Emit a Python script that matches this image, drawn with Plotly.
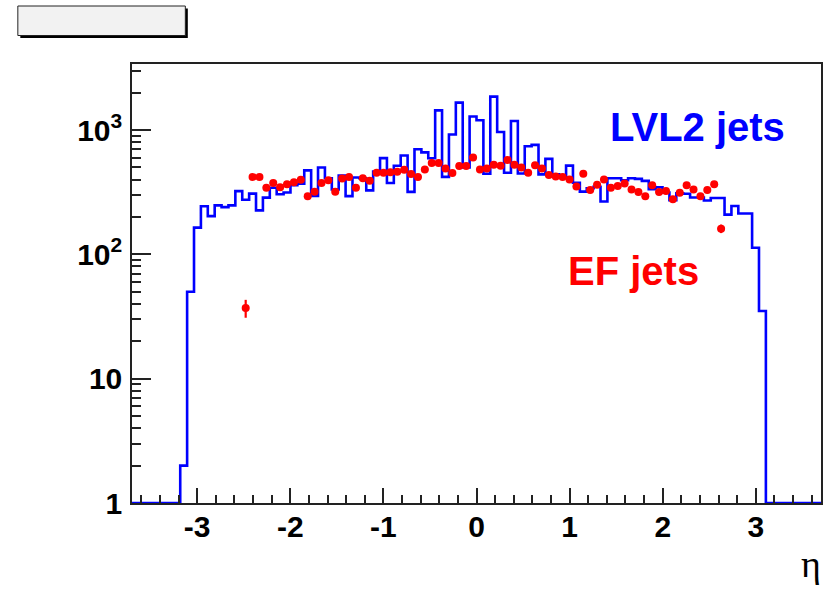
import numpy as np
import plotly.graph_objects as go

# ---- binning (100 bins from -3.7 to 3.7) ----
eta_min = -3.7
eta_max = 3.7
n_bins = 100

# ---- LVL2 jets histogram counts, per bin ----
lvl2_counts = [
    0, 0, 0, 0, 0, 0, 0, 2, 50, 164,
    244, 203, 248, 240, 248, 323, 275, 308, 226, 286,
    344, 305, 315, 360, 370, 474, 295, 500, 410, 333,
    430, 294, 415, 410, 327, 463, 595, 375, 517, 624,
    318, 700, 662, 594, 1441, 420, 922, 1661, 500, 1285,
    1200, 445, 1857, 965, 454, 1182, 447, 740, 760, 440,
    586, 440, 425, 518, 377, 320, 340, 350, 266, 410,
    410, 395, 410, 405, 390, 335, 347, 315, 273, 310,
    307, 287, 287, 271, 284, 284, 209, 245, 213, 213,
    113, 35, 0, 0, 0, 0, 0, 0, 0, 0,
]

# ---- EF jets counts, per bin ----
ef_counts = [
    0, 0, 0, 0, 0, 0, 0, 0, 0, 0,
    0, 0, 0, 0, 0, 0, 37, 420, 420, 344,
    375, 346, 366, 380, 399, 294, 319, 375, 395, 319,
    407, 420, 344, 410, 392, 454, 454, 458, 461, 480,
    443, 420, 482, 543, 543, 490, 451, 513, 513, 602,
    482, 490, 525, 517, 575, 525, 501, 454, 521, 490,
    436, 424, 420, 401, 351, 446, 330, 363, 401, 344,
    355, 372, 333, 317, 294, 359, 317, 323, 277, 313,
    359, 333, 294, 329, 366, 161, 0, 0, 0, 0,
    0, 0, 0, 0, 0, 0, 0, 0, 0, 0,
]

x_tick_vals = [-3, -2, -1, 0, 1, 2, 3]
x_tick_text = ["-3", "-2", "-1", "0", "1", "2", "3"]
y_tick_vals = [1, 10, 100, 1000]
y_tick_text = ["1", "10", "10<sup>2</sup>", "10<sup>3</sup>"]
y_axis_max = 3400

lvl2_label = "LVL2 jets"
ef_label = "EF jets"
x_title = "η"

# ---- derived ----
edges = np.linspace(eta_min, eta_max, n_bins + 1)
centers = 0.5 * (edges[:-1] + edges[1:])
half_width = 0.5 * (edges[1] - edges[0])
lvl2 = np.array(lvl2_counts, dtype=float)
ef = np.array(ef_counts, dtype=float)

step_y = np.append(lvl2, lvl2[-1])
step_y_plot = np.clip(step_y, 1.0, None)  # empty bins drawn on the axis floor

mask = ef > 0
ef_x = centers[mask]
ef_y = ef[mask]
ef_err = np.sqrt(ef_y)

minor_y = [m * 10 ** d for d in range(0, 4) for m in range(2, 10) if m * 10 ** d <= y_axis_max]

fig = go.Figure()
fig.add_trace(go.Scatter(
    x=edges, y=step_y_plot, mode="lines",
    line=dict(shape="hv", color="#0000ff", width=2.6),
    hoverinfo="skip", showlegend=False,
))
fig.add_trace(go.Scatter(
    x=ef_x, y=ef_y, mode="markers",
    marker=dict(symbol="circle", size=8, color="#ff0000"),
    error_y=dict(type="data", array=ef_err, color="#ff0000", thickness=2.2, width=0),
    error_x=dict(type="constant", value=half_width, color="#ff0000", thickness=2.2, width=0),
    hoverinfo="skip", showlegend=False,
))

axis_font = dict(family="Liberation Sans, Arial, sans-serif", size=30, color="black", weight="bold")

fig.update_layout(
    width=829, height=590,
    margin=dict(l=132, r=6, t=64, b=87),
    paper_bgcolor="white", plot_bgcolor="white",
    showlegend=False,
    xaxis=dict(
        range=[eta_min, eta_max],
        showgrid=False, zeroline=False,
        showline=True, mirror=True, linecolor="#222", linewidth=1.5,
        ticks="inside", ticklen=15, tickwidth=1.5, tickcolor="#222",
        tickmode="array", tickvals=x_tick_vals, ticktext=x_tick_text,
        tickfont=axis_font, ticklabelstandoff=-4,
        minor=dict(ticks="inside", ticklen=8, tickwidth=1.5, tickcolor="#222",
                   dtick=0.2, tick0=0, showgrid=False),
    ),
    yaxis=dict(
        type="log",
        range=[0, np.log10(y_axis_max)],
        showgrid=False, zeroline=False,
        showline=True, mirror=True, linecolor="#222", linewidth=1.5,
        ticks="inside", ticklen=19, tickwidth=1.5, tickcolor="#222",
        tickmode="array", tickvals=y_tick_vals, ticktext=y_tick_text,
        tickfont=axis_font, ticklabelstandoff=2,
        minor=dict(ticks="inside", ticklen=9, tickwidth=1.5, tickcolor="#222",
                   tickmode="array", tickvals=minor_y, showgrid=False),
    ),
    shapes=[
        dict(type="rect", xref="paper", yref="paper",
             x0=-0.1621, x1=0.0810, y0=1.0592, y1=1.1264,
             fillcolor="black", line=dict(width=0), layer="above"),
        dict(type="rect", xref="paper", yref="paper",
             x0=-0.1657, x1=0.0774, y0=1.0649, y1=1.1321,
             fillcolor="#f2f2f2", line=dict(color="#222", width=1), layer="above"),
    ],
    annotations=[
        dict(text=lvl2_label, xref="paper", yref="paper", x=0.8213, y=0.8565,
             xanchor="center", yanchor="middle", showarrow=False,
             font=dict(family="Liberation Sans, Arial, sans-serif", size=40,
                       color="#0000ff", weight="bold")),
        dict(text=ef_label, xref="paper", yref="paper", x=0.7275, y=0.5285,
             xanchor="center", yanchor="middle", showarrow=False,
             font=dict(family="Liberation Sans, Arial, sans-serif", size=40,
                       color="#ff0000", weight="bold")),
        dict(text=x_title, xref="paper", yref="paper", x=0.9855, y=-0.140,
             xanchor="center", yanchor="middle", showarrow=False, borderpad=0,
             font=dict(family="Liberation Serif, DejaVu Serif, serif", size=38, color="black")),
    ],
)

fig.write_html("out.html")
